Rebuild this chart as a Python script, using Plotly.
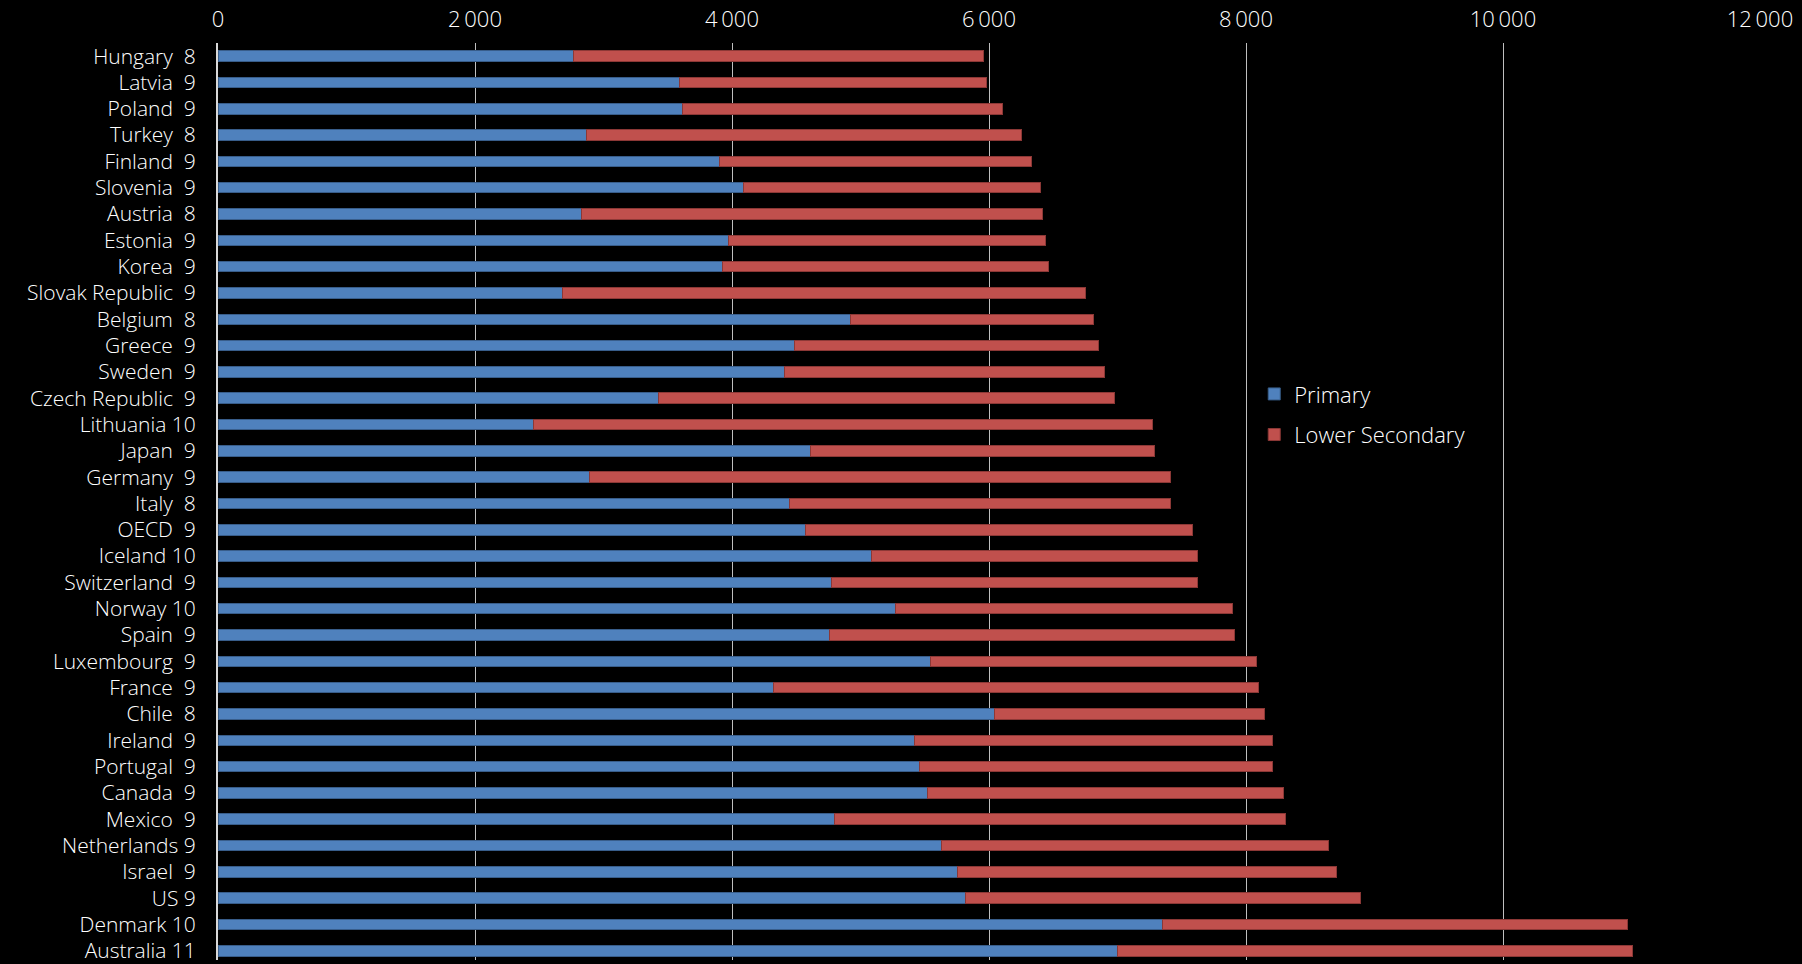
import plotly.graph_objects as go

countries = ["Hungary", "Latvia", "Poland", "Turkey", "Finland", "Slovenia", "Austria",
             "Estonia", "Korea", "Slovak Republic", "Belgium", "Greece", "Sweden",
             "Czech Republic", "Lithuania", "Japan", "Germany", "Italy", "OECD", "Iceland",
             "Switzerland", "Norway", "Spain", "Luxembourg", "France", "Chile", "Ireland",
             "Portugal", "Canada", "Mexico", "Netherlands", "Israel", "US", "Denmark",
             "Australia"]
years = [8, 9, 9, 8, 9, 9, 8, 9, 9, 9, 8, 9, 9, 9, 10, 9, 9, 8, 9, 10,
         9, 10, 9, 9, 9, 8, 9, 9, 9, 9, 9, 9, 9, 10, 11]
primary = [2766, 3594, 3614, 2867, 3905, 4092, 2828, 3970, 3925, 2680, 4922, 4486, 4406,
           3427, 2454, 4610, 2890, 4447, 4572, 5088, 4777, 5275, 4758, 5547, 4323, 6043,
           5420, 5462, 5524, 4797, 5630, 5755, 5817, 7351, 6999]
lower_secondary = [3194, 2386, 2491, 3383, 2429, 2306, 3591, 2470, 2536, 4071, 1891, 2369,
                   2491, 3553, 4816, 2681, 4526, 2969, 3010, 2535, 2846, 2618, 3156, 2533,
                   3778, 2099, 2784, 2742, 2765, 3510, 3011, 2948, 3071, 3617, 4007]
x_tickvals = [0, 2000, 4000, 6000, 8000, 10000, 12000]
x_ticktext = ["0", "2\u2009000", "4\u2009000", "6\u2009000", "8\u2009000", "10\u2009000", "12\u2009000"]

NB = "\u00a0"
tight = {"Netherlands", "US"}
labels = []
for c, y in zip(countries, years):
    gap = NB if (y >= 10 or c in tight) else NB * 2
    labels.append(f"{c}{gap}{y}")

FONT = "Open Sans"
TXT = dict(family=FONT, size=22, color="white", weight=300)
YTXT = dict(family=FONT, size=21, color="white", weight=300)

fig = go.Figure()
fig.add_trace(go.Bar(
    y=labels, x=primary, orientation="h", name="Primary",
    legendgroup="p",
    marker=dict(color="#4F81BD", line=dict(color="#385D8A", width=1)),
))
fig.add_trace(go.Bar(
    y=labels, x=lower_secondary, orientation="h", name="Lower Secondary",
    legendgroup="l",
    marker=dict(color="#C0504D", line=dict(color="#8C3836", width=1)),
))

fig.update_layout(
    width=1802, height=964,
    barmode="stack", bargap=0.6,
    paper_bgcolor="black", plot_bgcolor="black",
    margin=dict(l=218, r=42, t=43, b=0, pad=0),
    font=TXT,
    legend=dict(
        x=0.672, y=0.64, xanchor="left", yanchor="top",
        bgcolor="rgba(0,0,0,0)", traceorder="grouped", tracegroupgap=9,
        font=TXT,
    ),
    xaxis=dict(
        side="top", range=[0, 12000], tickvals=x_tickvals, ticktext=x_ticktext,
        showgrid=True, gridcolor="#BFBFBF", gridwidth=1, zeroline=False,
        showline=False, ticks="", ticklabelstandoff=11,
        tickfont=TXT,
    ),
    yaxis=dict(
        type="category", categoryorder="array", categoryarray=labels,
        range=[34.35, -0.5], showgrid=False, zeroline=False,
        showline=True, linecolor="#D9D9D9", linewidth=2, ticks="",
        ticklabelstandoff=16,
        tickfont=YTXT,
    ),
)

fig.write_html(
    "out.html",
    config={"displayModeBar": False},
    post_script="document.body.style.margin='0px';document.body.style.background='black';"
                "document.documentElement.style.background='black';",
)
